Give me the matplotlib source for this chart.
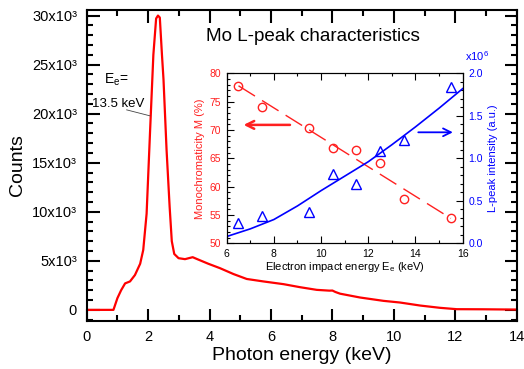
import matplotlib
matplotlib.use('Agg')
import matplotlib.pyplot as plt
from matplotlib.ticker import MultipleLocator, FixedLocator, FixedFormatter

plt.rcParams['font.family'] = ['Liberation Sans', 'DejaVu Sans']
plt.rcParams['mathtext.fontset'] = 'custom'
plt.rcParams['mathtext.rm'] = 'Liberation Sans'
plt.rcParams['mathtext.it'] = 'Liberation Sans:italic'
plt.rcParams['mathtext.default'] = 'regular'

# ---- main spectrum ----
photon_energy = [0, 0.87, 1.0, 1.12, 1.25, 1.41, 1.57, 1.74, 1.84, 1.95, 2.06, 2.17,
                 2.26, 2.32, 2.38, 2.45, 2.5, 2.6, 2.7, 2.77, 2.85, 2.99, 3.2, 3.45,
                 3.6, 3.96, 4.34, 4.78, 5.21, 5.75, 6.41, 6.95, 7.49, 7.9, 8.0, 8.1,
                 8.25, 8.9, 9.66, 10.2, 10.86, 11.5, 12.05, 12.9, 14.0]
counts = [0, 0, 1200, 2000, 2700, 2900, 3550, 4700, 6100, 9800, 18000, 26000,
          29700, 30000, 29800, 26000, 23500, 16300, 10500, 7000, 5700, 5270, 5170, 5370,
          5170, 4700, 4250, 3650, 3150, 2900, 2620, 2310, 2040, 1960, 1970, 1820,
          1650, 1260, 920, 750, 440, 210, 70, 60, 30]
y_ticks = [0, 5000, 10000, 15000, 20000, 25000, 30000]
y_tick_labels = ['0', '5x10³', '10x10³', '15x10³', '20x10³', '25x10³', '30x10³']

# ---- inset data ----
e_impact = [6.5, 7.5, 9.5, 10.5, 11.5, 12.5, 13.5, 15.5]
monochromaticity = [77.7, 74.1, 70.3, 66.9, 66.4, 64.2, 57.8, 54.4]
l_peak = [0.235, 0.325, 0.365, 0.81, 0.70, 1.09, 1.22, 1.835]
mono_fit_x = [6.5, 15.5]
mono_fit_y = [77.8, 54.4]
lpeak_fit_x = [6, 7, 8, 9, 10, 11, 12, 13, 14, 15, 16]
lpeak_fit_y = [0.08, 0.17, 0.28, 0.44, 0.62, 0.79, 0.96, 1.16, 1.37, 1.59, 1.82]

fig = plt.figure(figsize=(5.24, 3.69), dpi=100)
ax = fig.add_axes([0.1655, 0.131, 0.8205, 0.8427])
ax.plot(photon_energy, counts, color='#ff0000', lw=1.6)
ax.set_xlim(0, 14)
ax.set_ylim(-1100, 30600)
ax.xaxis.set_major_locator(MultipleLocator(2))
ax.xaxis.set_minor_locator(MultipleLocator(1))
ax.yaxis.set_major_locator(FixedLocator(y_ticks))
ax.yaxis.set_major_formatter(FixedFormatter(y_tick_labels))
ax.yaxis.set_minor_locator(MultipleLocator(1000))
ax.tick_params(which='both', direction='in', top=True, right=True, width=1.5, labelsize=10.5)
ax.tick_params(which='major', length=9, pad=7)
ax.tick_params(which='minor', length=4.5)
for s in ax.spines.values():
    s.set_linewidth(1.5)
ax.set_xlabel('Photon energy (keV)', fontsize=14, labelpad=2)
ax.set_ylabel('Counts', fontsize=14, labelpad=4)

ax.text(0.97, 23450, r'E$_e$=', fontsize=10, ha='center', va='center')
ax.text(1.02, 21000, '13.5 keV', fontsize=9.5, ha='center', va='center')
ax.plot([1.3, 2.06], [20390, 19780], color='#444444', lw=0.6)
ax.text(7.37, 27830, 'Mo L-peak characteristics', fontsize=13.6, ha='center', va='center')

# ---- inset ----
red = '#ff2020'
blue = '#0000ff'
ins = fig.add_axes([0.4326, 0.3406, 0.4504, 0.4607])
ins.set_facecolor('none')
ins.plot(mono_fit_x, mono_fit_y, color=red, lw=1.0, dashes=(14, 6))
ins.plot(e_impact, monochromaticity, 'o', mfc='none', mec=red, ms=6, mew=1.0)
ins.set_xlim(6, 16)
ins.set_ylim(50, 80)
ins.xaxis.set_major_locator(MultipleLocator(2))
ins.xaxis.set_minor_locator(MultipleLocator(1))
ins.yaxis.set_major_locator(MultipleLocator(5))
ins.yaxis.set_minor_locator(MultipleLocator(1))
ins.tick_params(which='both', direction='in', top=True, labelsize=7.5, width=0.8)
ins.tick_params(which='major', length=5, pad=4)
ins.tick_params(which='minor', length=2.5)
ins.tick_params(axis='y', labelcolor=red)
ins.set_xlabel(r'Electron impact energy E$_e$ (keV)', fontsize=8, labelpad=1)
ins.set_ylabel('Monochromaticity M (%)', fontsize=8, color=red, labelpad=3)
ins.annotate('', xy=(6.6, 70.9), xytext=(8.8, 70.9),
             arrowprops=dict(arrowstyle='->', color=red, lw=1.8, mutation_scale=14))
for s in ins.spines.values():
    s.set_linewidth(0.8)

ins2 = ins.twinx()
ins2.plot(lpeak_fit_x, lpeak_fit_y, color=blue, lw=1.2)
ins2.plot(e_impact, l_peak, '^', mfc='none', mec=blue, ms=6.5, mew=1.0)
ins2.set_ylim(0, 2.0)
ins2.yaxis.set_minor_locator(MultipleLocator(0.1))
ins2.set_yticks([0, 0.5, 1.0, 1.5, 2.0])
ins2.set_yticklabels(['0.0', '0.5', '1.0', '1.5', '2.0'])
ins2.tick_params(which='both', direction='in', labelsize=7.5, width=0.8, labelcolor=blue)
ins2.tick_params(which='major', length=5, pad=4)
ins2.tick_params(which='minor', length=2.5)
ins2.set_ylabel('L-peak intensity (a.u.)', fontsize=8, color=blue, labelpad=4)
ins2.text(1.01, 1.06, r'x10$^6$', transform=ins2.transAxes, fontsize=8, color=blue,
          ha='left', va='bottom')
ins2.annotate('', xy=(15.7, 1.306), xytext=(14.0, 1.306),
              arrowprops=dict(arrowstyle='->', color=blue, lw=1.3, mutation_scale=14))
for s in ins2.spines.values():
    s.set_linewidth(0.8)

fig.savefig('out.png', dpi=100)
